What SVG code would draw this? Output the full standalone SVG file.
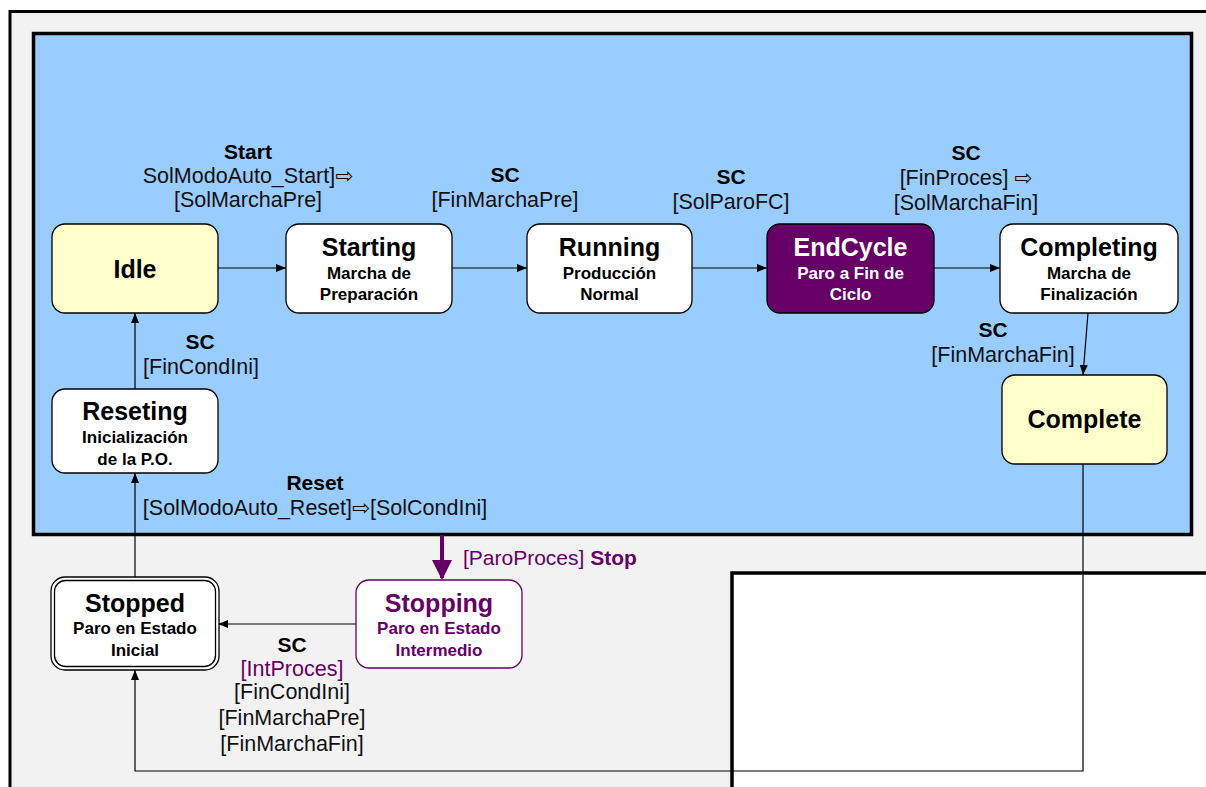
<svg xmlns="http://www.w3.org/2000/svg" width="1206" height="787" viewBox="0 0 1206 787">
<defs>
<style>
.t{font-family:"Liberation Sans","DejaVu Sans",Arial,sans-serif;text-anchor:middle}
.title{font-size:25px;font-weight:bold;fill:#000}
.sub{font-size:17px;font-weight:bold;fill:#000}
.lbl{font-size:21.5px;fill:#111}
.lb{font-size:21px;font-weight:bold;fill:#000}
.node{fill:#fff;stroke:#000;stroke-width:1.3}
.yel{fill:#FFFFCC;stroke:#000;stroke-width:1.3}
.con{fill:none;stroke:#000;stroke-width:1.2}
</style>
<marker id="ah" viewBox="0 0 10 10" refX="10" refY="5" markerWidth="10" markerHeight="10" markerUnits="userSpaceOnUse" orient="auto">
<path d="M0,1 L10,5 L0,9 Z" fill="#000"/>
</marker>
<marker id="ahp" viewBox="0 0 10 10" refX="9" refY="5" markerWidth="5" markerHeight="5" orient="auto">
<path d="M0,0 L10,5 L0,10 Z" fill="#660066"/>
</marker>
</defs>
<rect width="1206" height="787" fill="#fff"/>
<g id="frames">
<rect x="10" y="11.5" width="1220" height="800" fill="#F2F2F2" stroke="#000" stroke-width="3"/>
<rect x="33.5" y="33.5" width="1158" height="501" fill="#99CCFF" stroke="#000" stroke-width="3.5"/>
<rect x="732" y="573" width="500" height="240" fill="#fff" stroke="#000" stroke-width="3.5"/>
</g>
<g id="connectors">
<line class="con" x1="218" y1="268" x2="286" y2="268" marker-end="url(#ah)"/>
<line class="con" x1="452" y1="268" x2="527" y2="268" marker-end="url(#ah)"/>
<line class="con" x1="692" y1="268" x2="767" y2="268" marker-end="url(#ah)"/>
<line class="con" x1="934" y1="268" x2="1000" y2="268" marker-end="url(#ah)"/>
<line class="con" x1="1088" y1="313" x2="1083" y2="375" marker-end="url(#ah)"/>
<line class="con" x1="135" y1="389" x2="135" y2="313" marker-end="url(#ah)"/>
<line class="con" x1="135" y1="578" x2="135" y2="473" marker-end="url(#ah)"/>
<line class="con" x1="356" y1="624" x2="218" y2="624" marker-end="url(#ah)"/>
<polyline class="con" points="1083,464 1083,771 135,771 135,670" marker-end="url(#ah)"/>
<line x1="442" y1="535" x2="442" y2="578" stroke="#660066" stroke-width="4" marker-end="url(#ahp)"/>
<g class="t">
<text class="lb" x="248" y="159">Start</text>
<text class="lbl" x="248" y="183">SolModoAuto_Start]⇨</text>
<text class="lbl" x="248" y="207">[SolMarchaPre]</text>
<text class="lb" x="505" y="182">SC</text>
<text class="lbl" x="505" y="207">[FinMarchaPre]</text>
<text class="lb" x="731" y="184">SC</text>
<text class="lbl" x="731" y="209">[SolParoFC]</text>
<text class="lb" x="966" y="160">SC</text>
<text class="lbl" x="966" y="185">[FinProces] ⇨</text>
<text class="lbl" x="966" y="210">[SolMarchaFin]</text>
<text class="lb" x="993" y="337">SC</text>
<text class="lbl" x="1003" y="362">[FinMarchaFin]</text>
<text class="lb" x="200" y="349">SC</text>
<text class="lbl" x="201" y="374">[FinCondIni]</text>
<text class="lb" x="315" y="490">Reset</text>
<text class="lbl" x="315" y="515">[SolModoAuto_Reset]⇨[SolCondIni]</text>
<text class="lb" x="292" y="652">SC</text>
<text class="lbl" x="292" y="676" style="fill:#660066">[IntProces]</text>
<text class="lbl" x="292" y="699">[FinCondIni]</text>
<text class="lbl" x="292" y="725">[FinMarchaPre]</text>
<text class="lbl" x="292" y="751">[FinMarchaFin]</text>
</g>
<text class="t" x="463" y="565" style="text-anchor:start;font-size:21px;fill:#660066">[ParoProces] <tspan font-weight="bold">Stop</tspan></text>
</g>
<g id="idle">
<rect class="yel" x="52" y="224" width="166" height="89" rx="13"/>
<text class="t title" x="135" y="278">Idle</text>
</g>
<g id="starting">
<rect class="node" x="286" y="224" width="166" height="89" rx="13"/>
<text class="t title" x="369" y="256">Starting</text>
<text class="t sub" x="369" y="279">Marcha de</text>
<text class="t sub" x="369" y="300">Preparación</text>
</g>
<g id="running">
<rect class="node" x="527" y="224" width="165" height="89" rx="13"/>
<text class="t title" x="609.5" y="256">Running</text>
<text class="t sub" x="609.5" y="279">Producción</text>
<text class="t sub" x="609.5" y="300">Normal</text>
</g>
<g id="endcycle">
<rect x="767" y="224" width="167" height="89" rx="13" fill="#660066" stroke="#000" stroke-width="1.3"/>
<text class="t title" x="850.5" y="256" style="fill:#fff">EndCycle</text>
<text class="t sub" x="850.5" y="279" style="fill:#fff">Paro a Fin de</text>
<text class="t sub" x="850.5" y="300" style="fill:#fff">Ciclo</text>
</g>
<g id="completing">
<rect class="node" x="1000" y="224" width="178" height="89" rx="13"/>
<text class="t title" x="1089" y="256">Completing</text>
<text class="t sub" x="1089" y="279">Marcha de</text>
<text class="t sub" x="1089" y="300">Finalización</text>
</g>
<g id="complete">
<rect class="yel" x="1002" y="375" width="165" height="89" rx="13"/>
<text class="t title" x="1084.5" y="428">Complete</text>
</g>
<g id="reseting">
<rect class="node" x="52" y="389" width="166" height="84" rx="13"/>
<text class="t title" x="135" y="420">Reseting</text>
<text class="t sub" x="135" y="443">Inicialización</text>
<text class="t sub" x="135" y="465">de la P.O.</text>
</g>
<g id="stopped">
<rect class="node" x="51" y="577" width="168" height="93" rx="14"/>
<rect x="54.5" y="580.5" width="161" height="86" rx="11" fill="none" stroke="#000" stroke-width="1.3"/>
<text class="t title" x="135" y="612">Stopped</text>
<text class="t sub" x="135" y="634">Paro en Estado</text>
<text class="t sub" x="135" y="656">Inicial</text>
</g>
<g id="stopping">
<rect x="356" y="580" width="166" height="88" rx="13" fill="#fff" stroke="#660066" stroke-width="1.3"/>
<text class="t title" x="439" y="612" style="fill:#660066">Stopping</text>
<text class="t sub" x="439" y="634" style="fill:#660066">Paro en Estado</text>
<text class="t sub" x="439" y="656" style="fill:#660066">Intermedio</text>
</g>
</svg>
